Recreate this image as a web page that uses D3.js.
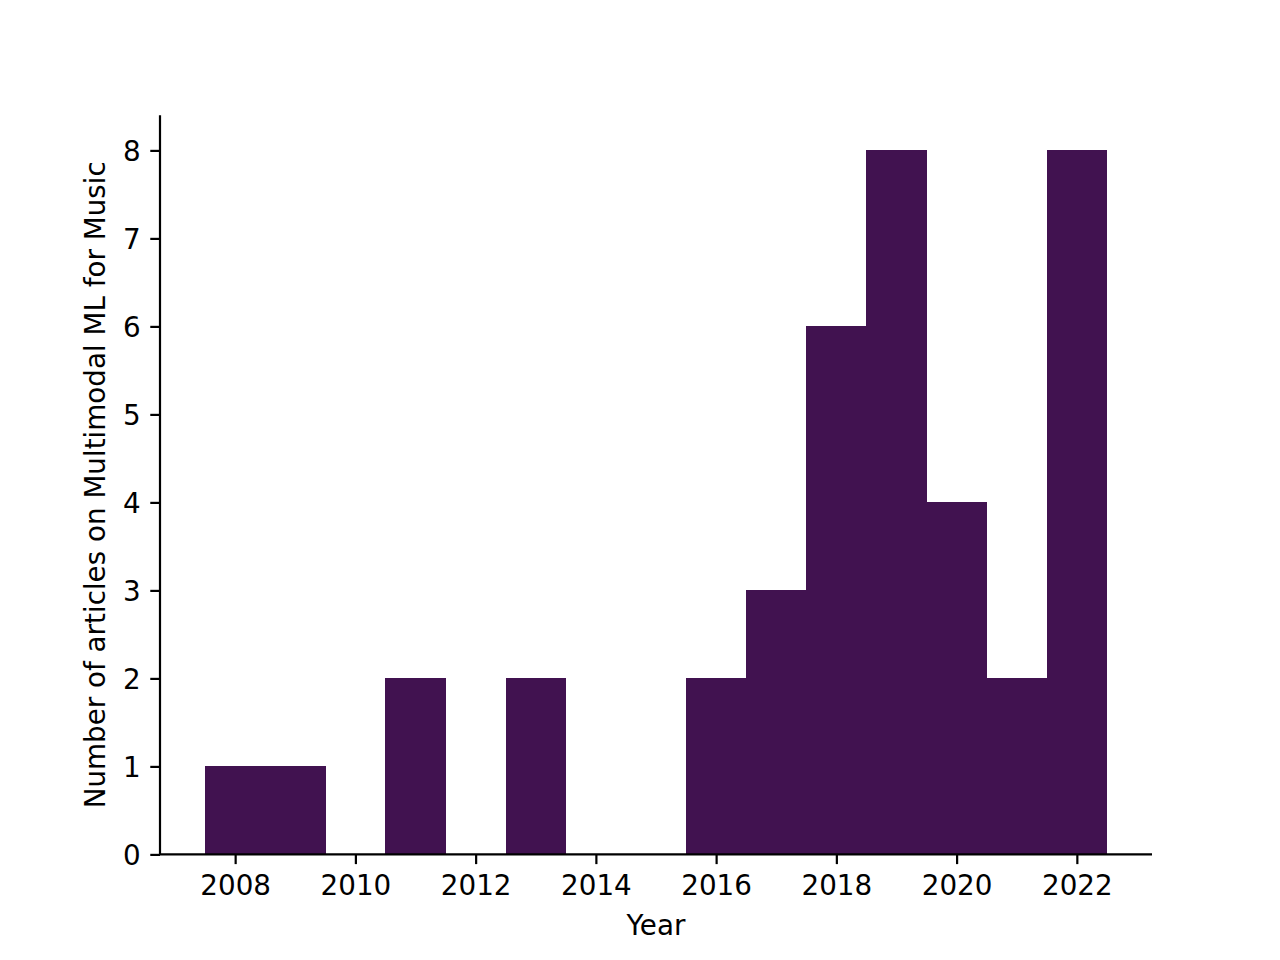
<!DOCTYPE html>
<html>
<head>
<meta charset="utf-8">
<script src="https://cdn.jsdelivr.net/npm/d3@7"></script>
<style>
  html, body { margin: 0; padding: 0; background: #fff; }
  text { font-family: "DejaVu Sans", sans-serif; }
</style>
</head>
<body>
<svg id="chart" width="1280" height="960"></svg>
<script>
// Data
const years = [2008, 2009, 2010, 2011, 2012, 2013, 2014, 2015, 2016, 2017, 2018, 2019, 2020, 2021, 2022];
const counts = [1, 1, 0, 2, 0, 2, 0, 0, 2, 3, 6, 8, 4, 2, 8];
const xTicks = [2008, 2010, 2012, 2014, 2016, 2018, 2020, 2022];
const yTicks = [0, 1, 2, 3, 4, 5, 6, 7, 8];
const xLabel = "Year";
const yLabel = "Number of articles on Multimodal ML for Music";

(function () {
const W = 1280, H = 960;
const mLeft = 160, mRight = 1152, mTop = 115.2, mBottom = 854.4;
const fontPx = 27.78;
const color = "#411250";

const svg = d3.select("#chart");
svg.append("rect").attr("width", W).attr("height", H).attr("fill", "#fff");

const x = d3.scaleLinear().domain([2006.75, 2023.25]).range([mLeft, mRight]);
const y = d3.scaleLinear().domain([0, 8.4]).range([mBottom, mTop]);

// bars
svg.append("g").selectAll("rect")
  .data(years.map((yr, i) => ({ yr, c: counts[i] })).filter(d => d.c > 0))
  .join("rect")
  .attr("x", d => x(d.yr - 0.5))
  .attr("width", d => x(d.yr + 0.5) - x(d.yr - 0.5) + 0.3)
  .attr("y", d => y(d.c))
  .attr("height", d => y(0) - y(d.c))
  .attr("fill", color)
  .attr("shape-rendering", "crispEdges");

const tickLen = 9.72, pad = 9.72, lw = 2.2;

// x axis
const xAxis = svg.append("g")
  .attr("transform", `translate(0,${mBottom})`)
  .call(d3.axisBottom(x).tickValues(xTicks).tickFormat(d3.format("d")).tickSize(tickLen).tickPadding(pad).tickSizeOuter(0));
// y axis
const yAxis = svg.append("g")
  .attr("transform", `translate(${mLeft},0)`)
  .call(d3.axisLeft(y).tickValues(yTicks).tickFormat(d3.format("d")).tickSize(tickLen).tickPadding(pad).tickSizeOuter(0));

[xAxis, yAxis].forEach(g => {
  g.select(".domain").attr("stroke", "#000").attr("stroke-width", lw);
  g.selectAll(".tick line").attr("stroke", "#000").attr("stroke-width", lw);
  g.selectAll(".tick text").attr("fill", "#000")
    .style("font-family", "'DejaVu Sans', sans-serif").style("font-size", fontPx + "px");
});
xAxis.selectAll(".tick text").attr("dy", "0.76em");
yAxis.selectAll(".tick text").attr("dy", "0.36em");
xAxis.select(".domain").attr("d", `M${mLeft},0H${mRight}`);
yAxis.select(".domain").attr("d", `M0,${mBottom}V${mTop}`);

// labels
svg.append("text")
  .attr("x", (mLeft + mRight) / 2).attr("y", 935)
  .attr("text-anchor", "middle")
  .style("font-size", fontPx + "px")
  .text(xLabel);

svg.append("text")
  .attr("transform", `translate(105,${(mTop + mBottom) / 2}) rotate(-90)`)
  .attr("text-anchor", "middle")
  .style("font-size", fontPx + "px")
  .text(yLabel);
})();
</script>
</body>
</html>
